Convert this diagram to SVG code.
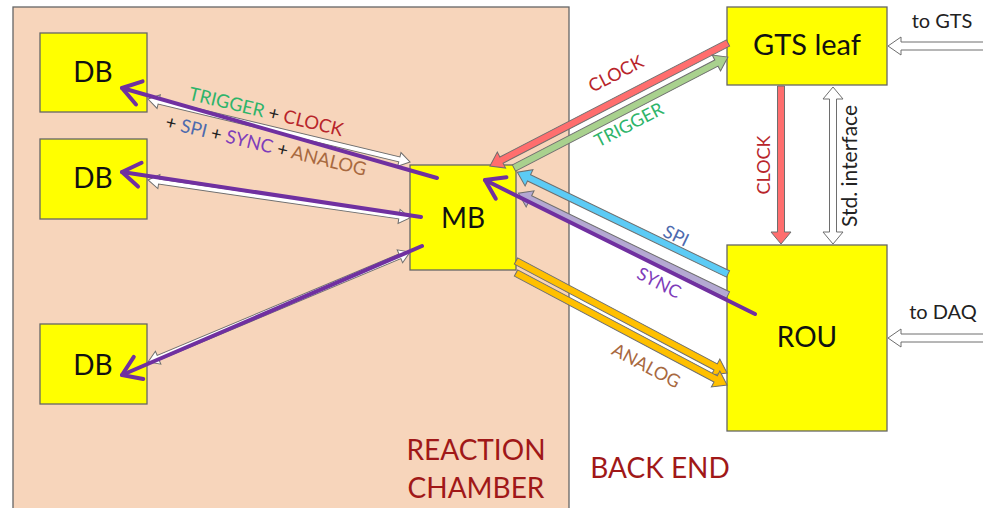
<svg xmlns="http://www.w3.org/2000/svg" width="983" height="508" viewBox="0 0 983 508">
  <style>
    text { font-family: Lato, "Open Sans", "Liberation Sans", sans-serif; }
    .box { fill: #FFFF00; stroke: #666666; stroke-width: 1.3; }
    .big { font-size: 28px; fill: #111111; text-anchor: middle; }
    .region { font-size: 28px; fill: #A01818; text-anchor: middle; }
    .lbl { font-size: 18px; text-anchor: middle; }
    .blk { stroke: #6E6E6E; stroke-width: 1; stroke-linejoin: miter; }
    .white { fill: #FFFFFF; }
    .red { fill: #FF6E6E; }
    .green { fill: #A9D18E; }
    .blue { fill: #5CCBF5; }
    .lav { fill: #B4A8D2; }
    .orange { fill: #FFC000; }
    .purple { fill: none; stroke: #7030A0; stroke-width: 4; stroke-linecap: round; marker-end: url(#chev); }
    .c-trig { fill: #2EB46A; }
    .c-clk { fill: #B8252B; }
    .c-spi { fill: #4D6AAE; }
    .c-sync { fill: #7E3CBA; }
    .c-ana { fill: #A8693F; }
    .c-plus { fill: #222222; }
  </style>
  <defs>
    <marker id="chev" markerUnits="userSpaceOnUse" viewBox="-26 -16 30 32" refX="0" refY="0" markerWidth="30" markerHeight="32" orient="auto">
      <path d="M-18,-12 L0,0 L-18,12" fill="none" stroke="#7030A0" stroke-width="4" stroke-linecap="round" stroke-linejoin="round"/>
    </marker>
  </defs>

  <rect width="983" height="508" fill="#FFFFFF"/>

  <!-- areas -->
  <g id="reaction-chamber">
    <rect x="13" y="7" width="556" height="520" fill="#F7D5BB" stroke="#666666" stroke-width="1.3"/>
    <text class="region" x="476" y="460">REACTION</text>
    <text class="region" x="476" y="498">CHAMBER</text>
  </g>
  <g id="back-end">
    <text class="region" x="660" y="478">BACK END</text>
  </g>

  <!-- boards -->
  <g id="db1">
    <rect class="box" x="40" y="33" width="107" height="79"/>
    <text class="big" x="93" y="82">DB</text>
  </g>
  <g id="db2">
    <rect class="box" x="40" y="139" width="107" height="80"/>
    <text class="big" x="93" y="188">DB</text>
  </g>
  <g id="db3">
    <rect class="box" x="40" y="324" width="107" height="80"/>
    <text class="big" x="93" y="375">DB</text>
  </g>
  <g id="mb">
    <rect class="box" x="410" y="165" width="106" height="105"/>
    <text class="big" x="463" y="228">MB</text>
  </g>
  <g id="gts-leaf">
    <rect class="box" x="727" y="7" width="160" height="78"/>
    <text class="big" x="807" y="55" style="font-size:29px">GTS leaf</text>
  </g>
  <g id="rou">
    <rect class="box" x="727" y="245" width="160" height="186"/>
    <text class="big" x="807" y="347">ROU</text>
  </g>

  <g id="connectors">
    <!-- DB <-> MB links -->
    <path class="blk white" transform="translate(148,99) rotate(13.52)" d="M0,0 L11,-7 V-2.5 H258.5 V-7 L269.5,0 L258.5,7 V2.5 H11 V7 Z"/>
    <path class="blk white" transform="translate(148,180) rotate(8.25)" d="M0,0 L11,-7 V-2.5 H253.7 V-7 L264.7,0 L253.7,7 V2.5 H11 V7 Z"/>
    <path class="blk white" transform="translate(148,362) rotate(-22.77)" d="M0,0 L11,-7 V-2.5 H273.2 V-7 L284.2,0 L273.2,7 V2.5 H11 V7 Z"/>

    <!-- GTS leaf <-> MB -->
    <path class="blk red" transform="translate(728,43) rotate(152.67)" d="M0,-3.5 H255 V-9 L268,0 L255,9 V3.5 H0 Z"/>
    <path class="blk green" transform="translate(514,168) rotate(-27.41)" d="M0,-3.5 H228 V-9 L241,0 L228,9 V3.5 H0 Z"/>

    <!-- ROU <-> MB -->
    <path class="blk blue" transform="translate(728,274) rotate(-154.2)" d="M0,-3.5 H221 V-9 L234,0 L221,9 V3.5 H0 Z"/>
    <path class="blk lav" transform="translate(728,295) rotate(-154.1)" d="M0,-3.5 H220 V-9 L233,0 L220,9 V3.5 H0 Z"/>
    <path class="blk orange" transform="translate(516,261) rotate(27.96)" d="M0,-3.5 H226 V-9 L239,0 L226,9 V3.5 H0 Z"/>
    <path class="blk orange" transform="translate(516,273) rotate(27.96)" d="M0,-3.5 H226 V-9 L239,0 L226,9 V3.5 H0 Z"/>

    <!-- GTS leaf -> ROU -->
    <path class="blk red" transform="translate(781,86) rotate(90)" d="M0,-3.5 H146 V-10 L158,0 L146,10 V3.5 H0 Z"/>
    <path class="blk white" transform="translate(833,87) rotate(90)" d="M0,0 L12,-10 V-3.5 H145 V-10 L157,0 L145,10 V3.5 H12 V10 Z"/>

    <!-- external links -->
    <path class="blk white" transform="translate(986,46) rotate(180)" d="M0,-4 H85 V-9 L98,0 L85,9 V4 H0 Z"/>
    <path class="blk white" transform="translate(986,338) rotate(180)" d="M0,-4 H85 V-9 L98,0 L85,9 V4 H0 Z"/>

    <!-- SYNC lines -->
    <line class="purple" x1="437" y1="178" x2="122" y2="88"/>
    <line class="purple" x1="421" y1="217" x2="122" y2="172"/>
    <line class="purple" x1="422" y1="246" x2="122" y2="375"/>
    <line class="purple" x1="755" y1="314" x2="485" y2="180"/>
  </g>

  <!-- connector labels -->
  <g id="labels">
    <text class="lbl" transform="translate(266,112) rotate(13.5)" dy="6" style="font-size:18.5px"><tspan class="c-trig">TRIGGER</tspan><tspan class="c-plus"> + </tspan><tspan class="c-clk">CLOCK</tspan></text>
    <text class="lbl" transform="translate(266,146) rotate(13.5)" dy="6" style="font-size:18.5px"><tspan class="c-plus">+ </tspan><tspan class="c-spi">SPI</tspan><tspan class="c-plus"> + </tspan><tspan class="c-sync">SYNC</tspan><tspan class="c-plus"> + </tspan><tspan class="c-ana">ANALOG</tspan></text>
    <text class="lbl c-clk" transform="translate(616,74) rotate(-27.3)" dy="6">CLOCK</text>
    <text class="lbl c-trig" transform="translate(629,125) rotate(-27.4)" dy="6">TRIGGER</text>
    <text class="lbl c-spi" transform="translate(676,236) rotate(25.8)" dy="6">SPI</text>
    <text class="lbl c-sync" transform="translate(659,283) rotate(27)" dy="6">SYNC</text>
    <text class="lbl c-ana" transform="translate(646,366) rotate(28)" dy="6">ANALOG</text>
    <text class="lbl c-clk" transform="translate(764,165) rotate(-90)" dy="6">CLOCK</text>
    <text class="lbl" transform="translate(850,166) rotate(-90)" dy="7" style="font-size:21px; fill:#222222">Std. interface</text>
    <text x="942" y="28" style="font-size:20px; fill:#222222; text-anchor:middle">to GTS</text>
    <text x="943" y="319" style="font-size:20px; fill:#222222; text-anchor:middle">to DAQ</text>
  </g>
</svg>
